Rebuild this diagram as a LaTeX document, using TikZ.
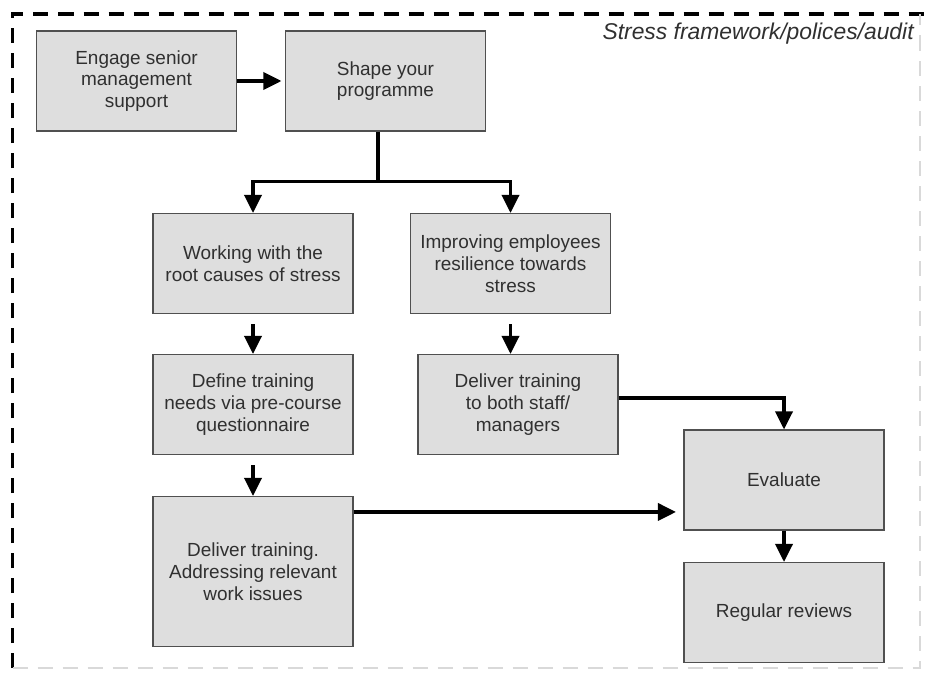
\documentclass[tikz,border=0pt]{standalone}
\usepackage{fontspec}
\setmainfont{Liberation Sans}
\usetikzlibrary{arrows.meta}
\definecolor{boxfill}{HTML}{DEDEDE}
\definecolor{boxline}{HTML}{505050}
\definecolor{txt}{HTML}{303030}

\begin{document}
\begin{tikzpicture}[box/.style={draw=boxline, fill=boxfill, line width=.6pt, minimum width=4cm, minimum height=2cm, align=center, text=txt, font=\fontsize{10.8}{12.4}\selectfont},%
        flow/.style={line width=2pt, -{Triangle[length=.36cm, width=.34cm]}}, frame/.style={line width=2pt, dash pattern=on .3cm off .2cm}]
    \useasboundingbox (0,0) rectangle (18.5,-13.54);
    % dashed frame
    \draw[frame] (.25,-13.36) -- (.25,-.28) -- (18.5,-.28);
    \draw[frame, gray!30, line width=1.2pt] (.25,-13.36) -- (18.4,-13.36) -- (18.4,-.28);
    \node[anchor=east, inner sep=0, text=txt, font=\fontsize{13}{15}\selectfont\itshape] (title) at (18.28,-.68) {Stress framework/polices/audit};
    % boxes
    \node[box] (engage) at (2.73,-1.62) {Engage senior\\management\\support};
    \node[box] (shape) at (7.71,-1.62) {Shape your\\programme};
    \node[box] (roots) at (5.06,-5.27) {Working with the\\root causes of stress};
    \node[box] (resil) at (10.21,-5.27) {Improving employees\\resilience towards\\stress};
    \node[box] (needs) at (5.06,-8.09) {Define training\\needs via pre-course\\questionnaire};
    \node[box] (staff) at (10.36,-8.09) {Deliver training\\to both staff/\\managers};
    \node[box] (evaluate) at (15.68,-9.6) {Evaluate};
    \node[box, minimum height=3cm] (deliver) at (5.06,-11.43) {Deliver training.\\Addressing relevant\\work issues};
    \node[box] (reviews) at (15.68,-12.25) {Regular reviews};
    % arrows
    \draw[flow, shorten >=2pt] (engage) -- (shape);
    \draw[line width=2pt] ([xshift=-.15cm]shape.south) -- ++(0,-1) coordinate (split);
    \draw[flow] (split) -| (roots.north);
    \draw[flow] (split) -| (resil.north);
    \draw[flow, shorten <=.2cm] (roots) -- (needs);
    \draw[flow, shorten <=.2cm] (resil) -- (resil |- staff.north);
    \draw[flow, shorten <=.2cm] (needs) -- (deliver);
    \draw[flow] ([yshift=.13cm]staff.east) -| (evaluate.north);
    \draw[flow, shorten >=.15cm] ([yshift=-.32cm]deliver.north east) -- ([yshift=-.32cm]deliver.north east -| evaluate.west);
    \draw[flow] (evaluate) -- (reviews);
\end{tikzpicture}
\end{document}
